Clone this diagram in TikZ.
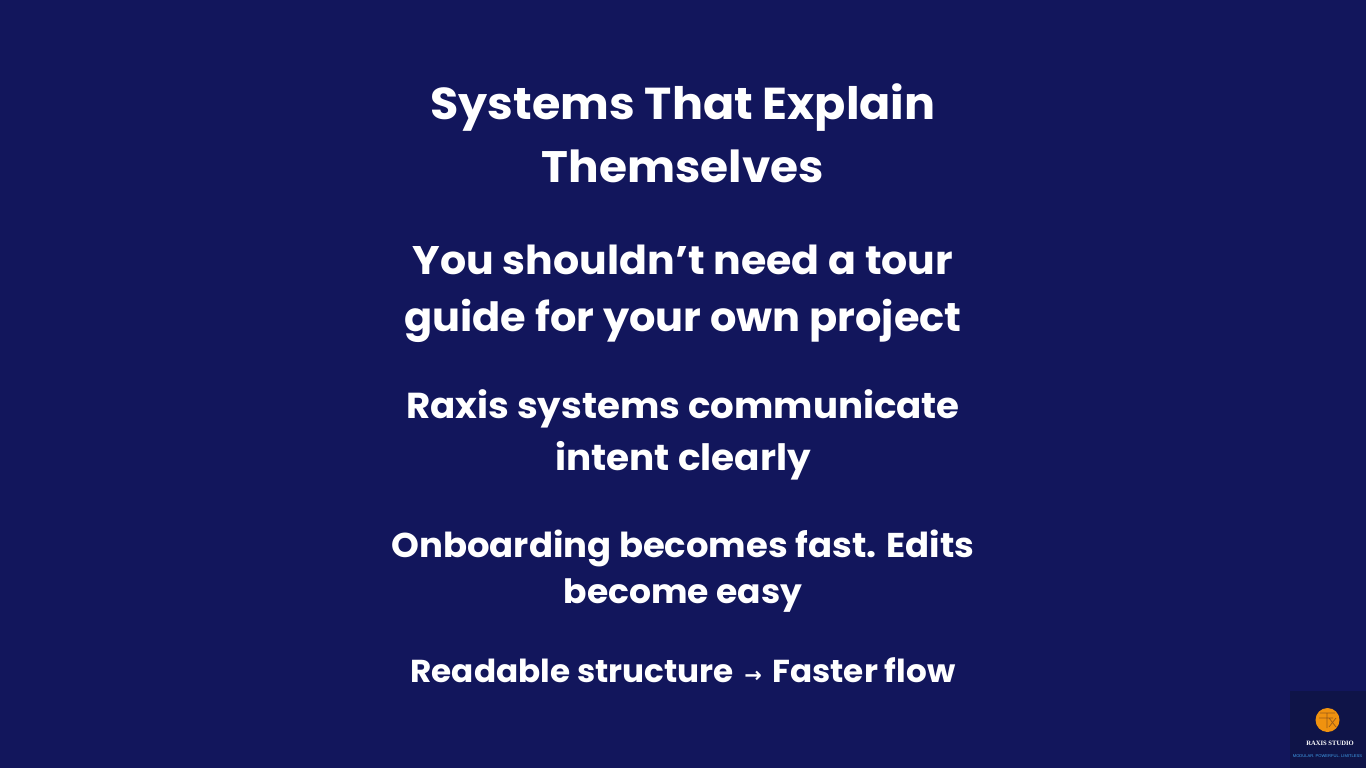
\documentclass[tikz,border=0pt]{standalone}
\usepackage{fontspec}
\setmainfont[FakeStretch=1.03]{Poppins}
\newfontfamily\arrowfont{DejaVu Sans}
\newfontfamily\logofont{Liberation Serif}
\newfontfamily\tagfont{Liberation Sans}
\definecolor{c12165c}{RGB}{18,22,92}
\definecolor{c10144a}{RGB}{15,20,72}
\definecolor{cf0920f}{RGB}{240,146,15}
\definecolor{c9a5c18}{RGB}{154,92,24}
\definecolor{c3d9be0}{RGB}{64,160,235}
\tikzset{
  line/.style={text=white,inner sep=0pt,outer sep=0pt,font=\bfseries},
}
\begin{document}
\begin{tikzpicture}[y=1pt, x=1pt,yscale=-1, inner sep=0pt, outer sep=0pt]
  \useasboundingbox (0,0) rectangle (1366,768);
  \fill[c12165c] (0,0) rectangle (1366,768);
  % heading
  \node[line] (title1) at (683,108) {\fontsize{44.7}{50}\selectfont\bfseries Systems That Explain};
  \node[line] (title2) at (683,166) {\fontsize{44.1}{50}\selectfont\bfseries Themselves};
  % lines
  \node[line] (tour1) at (683,260) {\fontsize{39.9}{46}\selectfont\bfseries You shouldn’t need a tour};
  \node[line] (tour2) at (683,321) {\fontsize{40.3}{46}\selectfont\bfseries guide for your own project};
  \node[line] (raxis1) at (683,409) {\fontsize{36.1}{42}\selectfont\bfseries Raxis systems communicate};
  \node[line] (raxis2) at (683,461) {\fontsize{36.3}{42}\selectfont\bfseries intent clearly};
  \node[line] (board1) at (683,548) {\fontsize{34.4}{40}\selectfont\bfseries Onboarding becomes fast. Edits};
  \node[line] (board2) at (683,596) {\fontsize{33.5}{40}\selectfont\bfseries become easy};
  \node[line] (flow) at (683,670) {\fontsize{31.7}{36}\selectfont\bfseries Readable structure\hspace{10.5pt}{\arrowfont\fontsize{21}{21}\selectfont\bfseries\raisebox{0pt}{→}}\hspace{10.5pt}Faster flow};
  % logo
  \fill[c10144a] (1290,691) rectangle (1366,768);
  \fill[cf0920f] (1327.5,720) circle (12);
  \draw[c9a5c18,line width=0.7pt] (1320,713) -- (1335,713) (1319,718) -- (1333,718)
    (1327,713) -- (1327,728) (1329,718) -- (1336,727) (1336,718) -- (1329,727);
  \node[text=white] (logoname) at (1330,743) {\logofont\fontsize{6.6}{8}\selectfont\bfseries RAXIS STUDIO};
  \node[text=c3d9be0] (logotag) at (1327.5,756) {\tagfont\fontsize{4.1}{5}\selectfont MODULAR. POWERFUL. LIMITLESS};
\end{tikzpicture}
\end{document}
